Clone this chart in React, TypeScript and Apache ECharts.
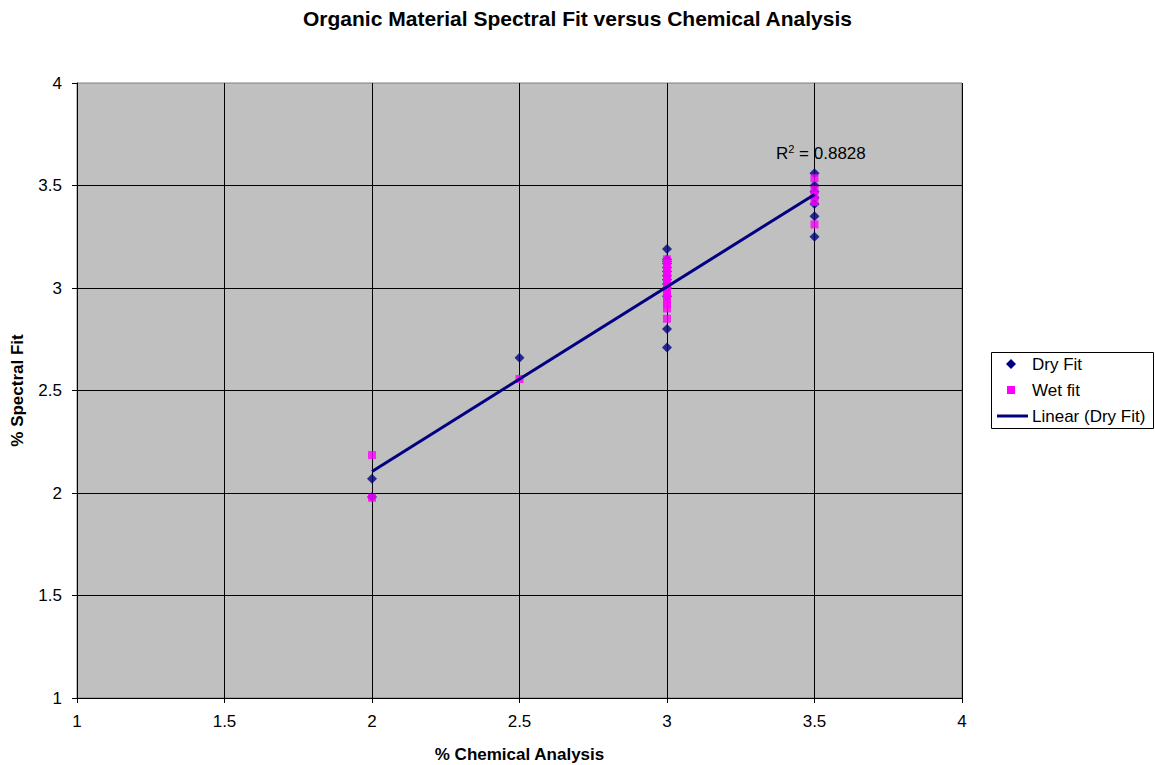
import React, { useEffect, useRef } from "react";
import * as echarts from "echarts";

const TITLE = "Organic Material Spectral Fit versus Chemical Analysis";
const X_NAME = "% Chemical Analysis";
const Y_NAME = "% Spectral Fit";
const LEGEND_NAMES = ["Dry Fit", "Wet fit", "Linear (Dry Fit)"];

// Dry fit: [chemical %, spectral %]
const dryFit: [number, number][] = [
  [2, 2.07], [2, 1.98],
  [2.5, 2.66],
  [3, 3.19], [3, 3.14], [3, 3.13], [3, 3.12], [3, 3.1], [3, 3.08], [3, 3.06],
  [3, 3.04], [3, 3.02], [3, 3.0], [3, 2.96], [3, 2.8], [3, 2.71],
  [3.5, 3.56], [3.5, 3.5], [3.5, 3.47], [3.5, 3.44], [3.5, 3.41], [3.5, 3.35], [3.5, 3.25],
];

// Wet fit
const wetFit: [number, number][] = [
  [2, 2.185], [2, 1.977],
  [2.5, 2.556],
  [3, 3.14], [3, 3.12], [3, 3.1], [3, 3.08], [3, 3.06], [3, 3.04], [3, 3.02],
  [3, 3.0], [3, 2.98], [3, 2.96], [3, 2.94], [3, 2.92], [3, 2.9], [3, 2.85],
  [3.5, 3.535], [3.5, 3.48], [3.5, 3.45], [3.5, 3.42], [3.5, 3.31],
];

const R2_VALUE = "0.8828";

const DRY_COLOR = "#000080";
const WET_COLOR = "#FF00FF";

function linearFit(pts: [number, number][]) {
  const n = pts.length;
  const mx = pts.reduce((s, p) => s + p[0], 0) / n;
  const my = pts.reduce((s, p) => s + p[1], 0) / n;
  let sxy = 0, sxx = 0;
  pts.forEach(([x, y]) => { sxy += (x - mx) * (y - my); sxx += (x - mx) ** 2; });
  const slope = sxy / sxx;
  return { slope, intercept: my - slope * mx };
}

export default function App() {
  const ref = useRef<HTMLDivElement>(null);
  useEffect(() => {
    if (!ref.current) return;
    const chart = echarts.init(ref.current, null, { renderer: "svg" });
    const { slope, intercept } = linearFit(dryFit);
    const xs = dryFit.map((p) => p[0]);
    const x0 = Math.min(...xs), x1 = Math.max(...xs);
    const trend = [[x0, intercept + slope * x0], [x1, intercept + slope * x1]];
    const font = "Liberation Sans, Arial, sans-serif";
    const lx = 991, ly = 352, lw = 162, lh = 76;
    const rowY = [364, 390, 416];
    chart.setOption({
      animation: false,
      textStyle: { fontFamily: font, color: "#000" },
      title: {
        text: TITLE, left: "center", top: 3,
        textStyle: { fontFamily: font, fontSize: 21, fontWeight: "bold", color: "#000" },
      },
      grid: {
        left: 77, right: 193, top: 83, bottom: 67, show: true,
        containLabel: false, outerBoundsMode: "none",
        backgroundColor: "#C0C0C0", borderColor: "#808080", borderWidth: 1,
      },
      xAxis: {
        type: "value", min: 1, max: 4, interval: 0.5,
        name: X_NAME, nameLocation: "middle", nameGap: 48,
        nameTextStyle: { fontSize: 17, fontWeight: "bold", color: "#000", fontFamily: font },
        axisLine: { lineStyle: { color: "#000" } },
        axisTick: { show: true, length: 5, lineStyle: { color: "#000" } },
        axisLabel: { fontSize: 17, color: "#000", margin: 15, fontFamily: font },
        splitLine: { show: true, lineStyle: { color: "#000", width: 1 } },
      },
      yAxis: {
        type: "value", min: 1, max: 4, interval: 0.5,
        name: Y_NAME, nameLocation: "middle", nameGap: 51,
        nameTextStyle: { fontSize: 17, fontWeight: "bold", color: "#000", fontFamily: font },
        axisLine: { show: true, lineStyle: { color: "#000" } },
        axisTick: { show: true, length: 5, lineStyle: { color: "#000" } },
        axisLabel: { fontSize: 17, color: "#000", margin: 15, fontFamily: font },
        splitLine: { show: true, showMaxLine: false, lineStyle: { color: "#000", width: 1 } },
      },
      legend: { show: false },
      series: [
        {
          name: LEGEND_NAMES[2], type: "line", data: trend, showSymbol: false, symbol: "none",
          lineStyle: { color: DRY_COLOR, width: 3 }, itemStyle: { color: DRY_COLOR }, z: 3,
        },
        {
          name: LEGEND_NAMES[0], type: "scatter", data: dryFit, symbol: "diamond", symbolSize: 10,
          itemStyle: { color: DRY_COLOR }, z: 2,
        },
        {
          name: LEGEND_NAMES[1], type: "scatter", data: wetFit, symbol: "rect", symbolSize: 8,
          itemStyle: { color: WET_COLOR }, z: 2,
        },
      ],
      graphic: [
        {
          type: "text", left: 776, top: 143,
          style: {
            text: "R{sup|2} = " + R2_VALUE,
            font: "17px " + font, fill: "#000",
            rich: { sup: { fontSize: 11, fontFamily: font, verticalAlign: "top", padding: [0, 0, 9, 0] } },
          },
        },
        {
          type: "rect", shape: { x: lx + 0.5, y: ly + 0.5, width: lw, height: lh },
          style: { fill: "#fff", stroke: "#000", lineWidth: 1 }, z: 10,
        },
        {
          type: "polygon",
          shape: { points: [[1011, rowY[0] - 5], [1016, rowY[0]], [1011, rowY[0] + 5], [1006, rowY[0]]] },
          style: { fill: DRY_COLOR }, z: 11,
        },
        {
          type: "rect", shape: { x: 1007, y: rowY[1] - 4, width: 8, height: 8 },
          style: { fill: WET_COLOR }, z: 11,
        },
        {
          type: "line", shape: { x1: 997, y1: rowY[2], x2: 1028, y2: rowY[2] },
          style: { stroke: DRY_COLOR, lineWidth: 3 }, z: 11,
        },
        ...LEGEND_NAMES.map((name, i) => ({
          type: "text", x: 1032, y: rowY[i], z: 11,
          style: { text: name, font: "17px " + font, fill: "#000", verticalAlign: "middle", align: "left" },
        })),
      ],
    });
    return () => chart.dispose();
  }, []);
  return (
    <div
      ref={ref}
      style={{ position: "fixed", left: 0, top: 0, width: 1155, height: 765, background: "#fff" }}
    />
  );
}
